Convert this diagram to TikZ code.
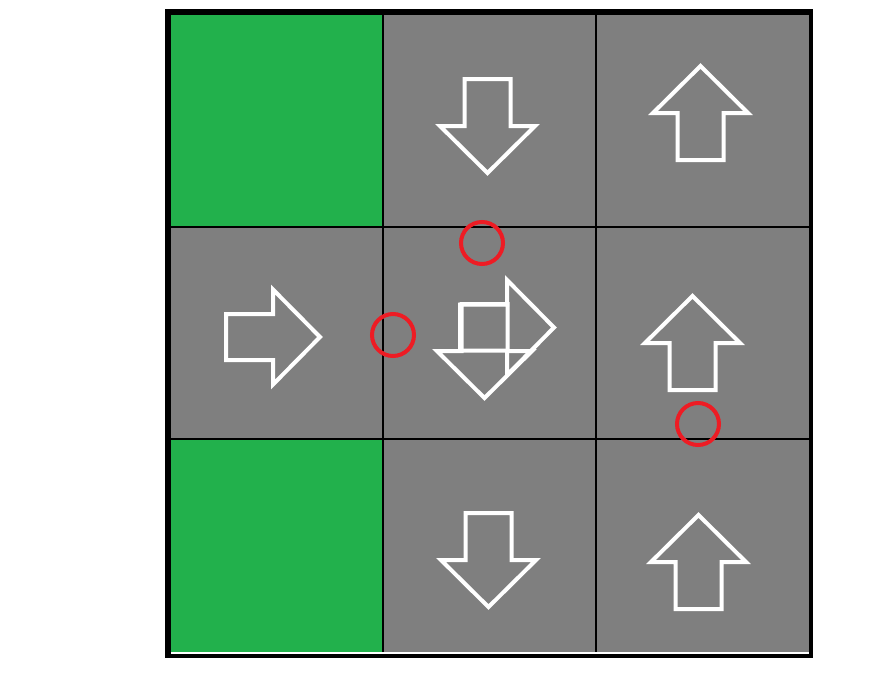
\documentclass[tikz,border=0pt]{standalone}
\usepackage{tikz}
\definecolor{paintgreen}{RGB}{34,177,76}
\definecolor{paintgray}{RGB}{127,127,127}
\definecolor{paintred}{RGB}{237,28,36}
\tikzset{grid cell/.style={fill=paintgray},
  goal cell/.style={fill=paintgreen},
  cell line/.style={draw=black,line width=1.5pt},
  arrow line/.style={draw=white,line width=3pt},
  red ring/.style={draw=paintred,line width=3pt},
  block arrow/.pic={\draw[arrow line] (0,-47) -- (47.5,0) -- (23,0) -- (23,47) -- (-23,47) -- (-23,0) -- (-47.5,0) -- cycle;}}

\begin{document}
\begin{tikzpicture}[x=0.75pt,y=-0.75pt]
        \useasboundingbox (0,0) rectangle (879,672);
        
        \fill[black] (165,9) rectangle (813,658);
        \fill[grid cell] (171,15) rectangle (809,651.5);
        \fill[goal cell] (171,15) rectangle (383,227);
        \fill[goal cell] (171,439) rectangle (383,651.5);
        \draw[white,line width=1.5pt] (171,652.5) -- (809,652.5);
        
        \foreach \x in {383,596}{
        	\draw[cell line] (\x,15) -- (\x,651.5);
        }
        \foreach \y in {227,439}{
        	\draw[cell line] (171,\y) -- (809,\y);
        }
        
        \foreach \px/\py/\turn in {487.5/126/180, 700.5/113/0, 273/337/-90, 507/327.5/-90, 484.5/351/180, 692.5/343/0, 488.5/560/180, 698.5/562/0}{
        	\pic[rotate=\turn] at (\px,\py) {block arrow};
        }
        
        \foreach \cx/\cy in {482/243, 393/335, 698/424}{
        	\draw[red ring] (\cx,\cy) circle[radius=21];
        }
\end{tikzpicture}
\end{document}
